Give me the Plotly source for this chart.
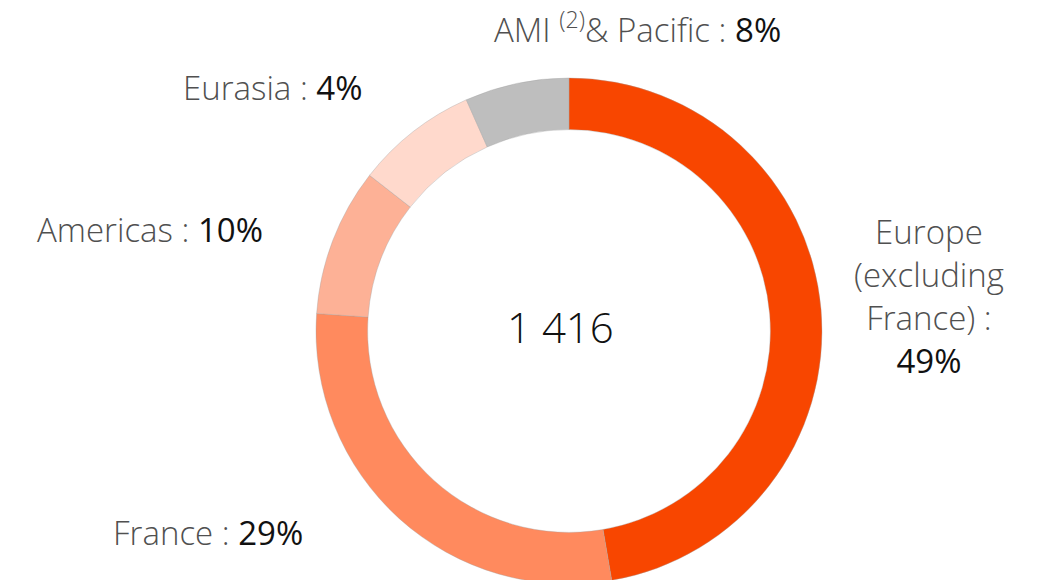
import plotly.graph_objects as go

# Data
regions = ["Europe (excluding France)", "France", "Americas", "Eurasia", "AMI (2) & Pacific"]
slice_values = [47.3, 28.8, 9.45, 7.8, 6.65]
label_pcts = ["49%", "29%", "10%", "4%", "8%"]
label_texts = ["Europe<br>(excluding<br>France) :", "France", "Americas", "Eurasia", "AMI <sup>(2)</sup>& Pacific"]
total_text = "1 416"
colors = ["#F84600", "#FF8A5E", "#FDB196", "#FFD9CC", "#BEBEBE"]

W, H = 1038, 580
OFF = 8  # page body margin offset
ML, MR, MT, MB = 0, 0, 74 - OFF, 0
CX, R = 569 - OFF, 253

fig = go.Figure()
fig.add_trace(go.Pie(
    labels=regions,
    values=slice_values,
    hole=0.796,
    sort=False,
    direction="clockwise",
    rotation=0,
    marker=dict(colors=colors, line=dict(color="rgba(160,160,160,0.6)", width=0.6)),
    textinfo="none",
    hoverinfo="label+percent",
    showlegend=False,
    domain=dict(x=[(CX - R) / W, (CX + R) / W], y=[0, 1]),
))

PH = H - MT - MB


def px(x):
    return (x - OFF) / W


def py(y):
    return (H - MB - (y - OFF)) / PH


FONT = "Open Sans"
SIZE = 33
LBL = "#505050"
PCT = "#111111"


def lab(i, sep=" : "):
    return f"{label_texts[i]}{sep}<span style='font-weight:400;color:{PCT}'>{label_pcts[i]}</span>"


ann = [
    # (text, x, y, xanchor) in viewport pixels
    (lab(4), 637, 27, "center"),
    (lab(3), 365, 87, "right"),
    (lab(2), 265, 229, "right"),
    (lab(1), 305, 532, "right"),
]
for t, x, y, xa in ann:
    fig.add_annotation(text=t, x=px(x), y=py(y), xref="paper", yref="paper",
                       xanchor=xa, yanchor="middle", showarrow=False,
                       font=dict(family=FONT, size=SIZE, color=LBL, weight=300))

fig.add_annotation(
    text=f"{label_texts[0]}<br><span style='font-weight:400;color:{PCT}'>{label_pcts[0]}</span>",
    x=px(929), y=py(296), xref="paper", yref="paper", xanchor="center", yanchor="middle",
    showarrow=False, align="center",
    font=dict(family=FONT, size=SIZE, color=LBL, weight=300))

fig.add_annotation(text=total_text, x=px(560), y=py(326), xref="paper", yref="paper",
                   xanchor="center", yanchor="middle", showarrow=False,
                   font=dict(family=FONT, size=42, color="#111111", weight=300))

fig.update_layout(
    width=W, height=H,
    margin=dict(l=ML, r=MR, t=MT, b=MB),
    paper_bgcolor="white", plot_bgcolor="white",
)

fig.write_html("out.html")
